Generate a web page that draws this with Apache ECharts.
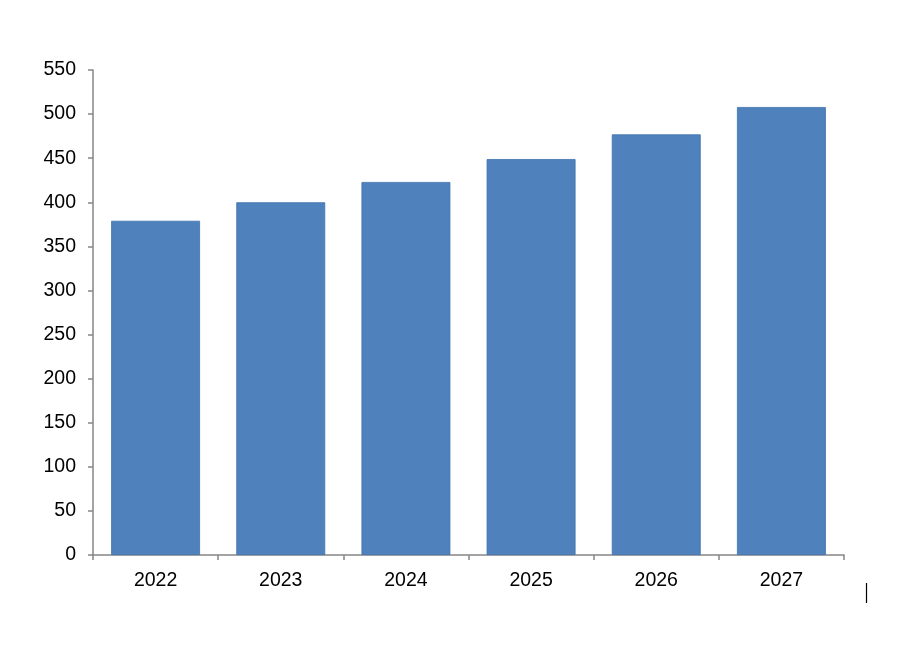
<!DOCTYPE html>
<html>
<head>
<meta charset="utf-8">
<script src="https://cdn.jsdelivr.net/npm/echarts@6/dist/echarts.min.js"></script>
<style>
html,body{margin:0;padding:0;background:#fff;}
#chart{width:900px;height:656px;}
</style>
</head>
<body>
<div id="chart"></div>
<script>
var categories = ['2022', '2023', '2024', '2025', '2026', '2027'];
var values = [379, 400, 423, 449, 477, 508];
var yTicks = { min: 0, max: 550, interval: 50 };

var chart = echarts.init(document.getElementById('chart'));
chart.setOption({
  animation: false,
  backgroundColor: '#ffffff',
  grid: { left: 93, right: 56, top: 70, bottom: 101, containLabel: false },
  xAxis: {
    type: 'category',
    data: categories,
    axisLine: { lineStyle: { color: '#868686', width: 1.5 } },
    axisTick: { show: true, length: 5, alignWithLabel: false, lineStyle: { color: '#868686', width: 1.5 } },
    axisLabel: { color: '#000', fontSize: 19.5, fontFamily: 'Liberation Sans, Arial, sans-serif', margin: 16 }
  },
  yAxis: {
    type: 'value',
    min: yTicks.min, max: yTicks.max, interval: yTicks.interval,
    axisLine: { show: true, lineStyle: { color: '#868686', width: 1.5 } },
    axisTick: { show: true, length: 5, lineStyle: { color: '#868686', width: 1.5 } },
    splitLine: { show: false },
    axisLabel: { color: '#000', fontSize: 19.5, fontFamily: 'Liberation Sans, Arial, sans-serif', margin: 17 }
  },
  series: [{
    type: 'bar',
    data: values,
    barCategoryGap: '29%',
    itemStyle: { color: '#4F81BD', borderColor: '#3f71ad', borderWidth: 0.8 }
  }],
  graphic: [{
    type: 'line',
    shape: { x1: 866.5, y1: 583, x2: 866.5, y2: 603 },
    style: { stroke: '#000', lineWidth: 1.2 }
  }]
});
</script>
</body>
</html>
